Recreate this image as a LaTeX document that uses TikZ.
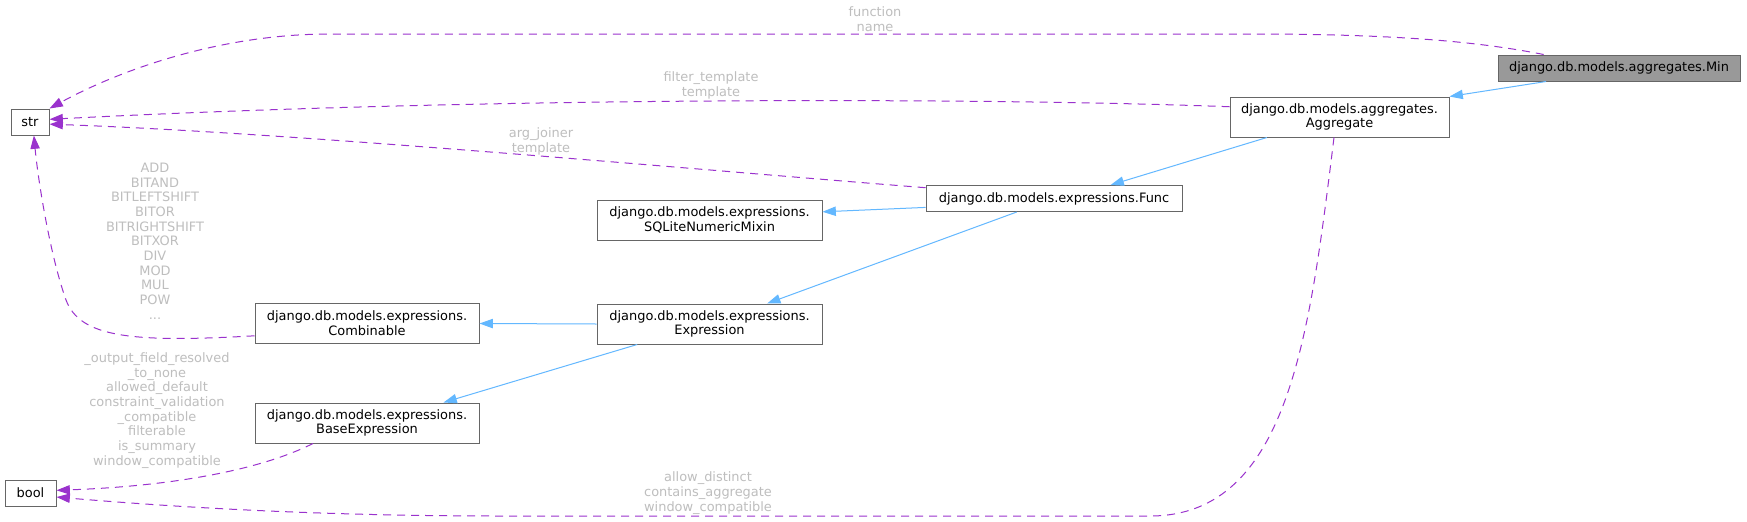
\documentclass[tikz,border=0pt]{standalone}
\usepackage{fontspec}
\setmainfont{DejaVu Sans}
\usetikzlibrary{arrows.meta,calc}
\definecolor{edgeblue}{HTML}{63B8FF}
\definecolor{edgepurple}{HTML}{9A32CD}
\definecolor{lblgray}{HTML}{BEBEBE}
\definecolor{boxborder}{HTML}{666666}
\definecolor{minfill}{HTML}{999999}
\tikzset{
  cls/.style={draw=boxborder, line width=0.75pt, fill=white, inner sep=0pt, align=center,
    font=\fontsize{9.7}{11}\selectfont},
  inh/.style={draw=edgeblue, line width=0.75pt, -{Triangle[length=10pt,width=7pt]}},
  dep/.style={draw=edgepurple, line width=0.75pt, dash pattern=on 6pt off 4.5pt,
    -{Triangle[length=10pt,width=7pt,fill=edgepurple]}},
  lbl/.style={text=lblgray, align=center, inner sep=0pt, font=\fontsize{9.7}{11}\selectfont},
}
\begin{document}
\begin{tikzpicture}[x=0.75pt,y=-0.75pt]
\path[use as bounding box, fill=white] (0,0) rectangle (1747,521);

% class nodes
\node[cls, fill=minfill, minimum width=181.5pt, minimum height=19.5pt] (Min) at (1619,68) {django.db.models.aggregates.Min};
\node[cls, minimum width=164.25pt, minimum height=30pt] (Aggregate) at (1339.5,117) {django.db.models.aggregates.\\Aggregate};
\node[cls, minimum width=192pt, minimum height=19.5pt] (Func) at (1054,198.5) {django.db.models.expressions.Func};
\node[cls, minimum width=168.75pt, minimum height=30pt] (SQLite) at (709.5,220) {django.db.models.expressions.\\SQLiteNumericMixin};
\node[cls, minimum width=168.75pt, minimum height=30pt] (Expression) at (709.5,324) {django.db.models.expressions.\\Expression};
\node[cls, minimum width=168pt, minimum height=30pt] (Combinable) at (367,323.5) {django.db.models.expressions.\\Combinable};
\node[cls, minimum width=168pt, minimum height=30pt] (BaseExpression) at (367,423) {django.db.models.expressions.\\BaseExpression};
\node[cls, minimum width=28.5pt, minimum height=19.5pt] (str) at (30,122) {str};
\node[cls, minimum width=38.25pt, minimum height=19.5pt] (bool) at (30.5,493) {bool};

% inheritance edges
\draw[inh] ($(Min.south west)!0.2!(Min.south east)$) -- (Aggregate.north east);
\draw[inh] ($(Aggregate.south west)!0.17!(Aggregate.south east)$) -- ($(Func.north west)!0.72!(Func.north east)$);
\draw[inh] ($(Func.south west)!0.17!(Func.north west)$) -- ($(SQLite.south east)!0.7!(SQLite.north east)$);
\draw[inh] ($(Func.south west)!0.355!(Func.south east)$) -- ($(Expression.north west)!0.755!(Expression.north east)$);
\draw[inh] (Expression.west) -- (Combinable.east);
\draw[inh] ($(Expression.south west)!0.18!(Expression.south east)$) -- ($(BaseExpression.north west)!0.84!(BaseExpression.north east)$);

% usage edges
\draw[dep] ($(Min.north west)!0.19!(Min.north east)$) .. controls (1480,42) and (1400,34) .. (1250,34)
  -- (330,34) .. controls (220,34) and (120,70) .. (str.north east);
\draw[dep] ($(Aggregate.south west)!0.75!(Aggregate.north west)$) .. controls (1000,98) and (500,96) .. ($(str.south east)!0.6!(str.north east)$);
\draw[dep] ($(Func.south west)!0.9!(Func.north west)$) .. controls (700,170) and (300,133) .. ($(str.south east)!0.42!(str.north east)$);
\draw[dep] ($(Combinable.south west)!0.2!(Combinable.north west)$) .. controls (130,343) and (80,337) .. (66,300)
  .. controls (50,255) and (38,180) .. ($(str.south west)!0.6!(str.south east)$);
\draw[dep] ($(BaseExpression.south west)!0.26!(BaseExpression.south east)$) .. controls (250,475) and (150,487) .. ($(bool.south east)!0.6!(bool.north east)$);
\draw[dep] ($(Aggregate.south west)!0.475!(Aggregate.south east)$) .. controls (1310,330) and (1290,516) .. (1150,516)
  -- (500,516) .. controls (300,516) and (150,505) .. ($(bool.south east)!0.35!(bool.north east)$);

% edge labels
\node[lbl] (l1) at (875,19) {function\\name};
\node[lbl] (l2) at (711,85.5) {filter\_template\\template};
\node[lbl] (l3) at (541,141.5) {arg\_joiner\\template};
\node[lbl] (l4) at (155,241) {ADD\\BITAND\\BITLEFTSHIFT\\BITOR\\BITRIGHTSHIFT\\BITXOR\\DIV\\MOD\\MUL\\POW\\...};
\node[lbl] (l5) at (157,410.5) {\_output\_field\_resolved\\\_to\_none\\allowed\_default\\constraint\_validation\\\_compatible\\filterable\\is\_summary\\window\_compatible};
\node[lbl] (l6) at (708,493) {allow\_distinct\\contains\_aggregate\\window\_compatible};
\end{tikzpicture}
\end{document}
